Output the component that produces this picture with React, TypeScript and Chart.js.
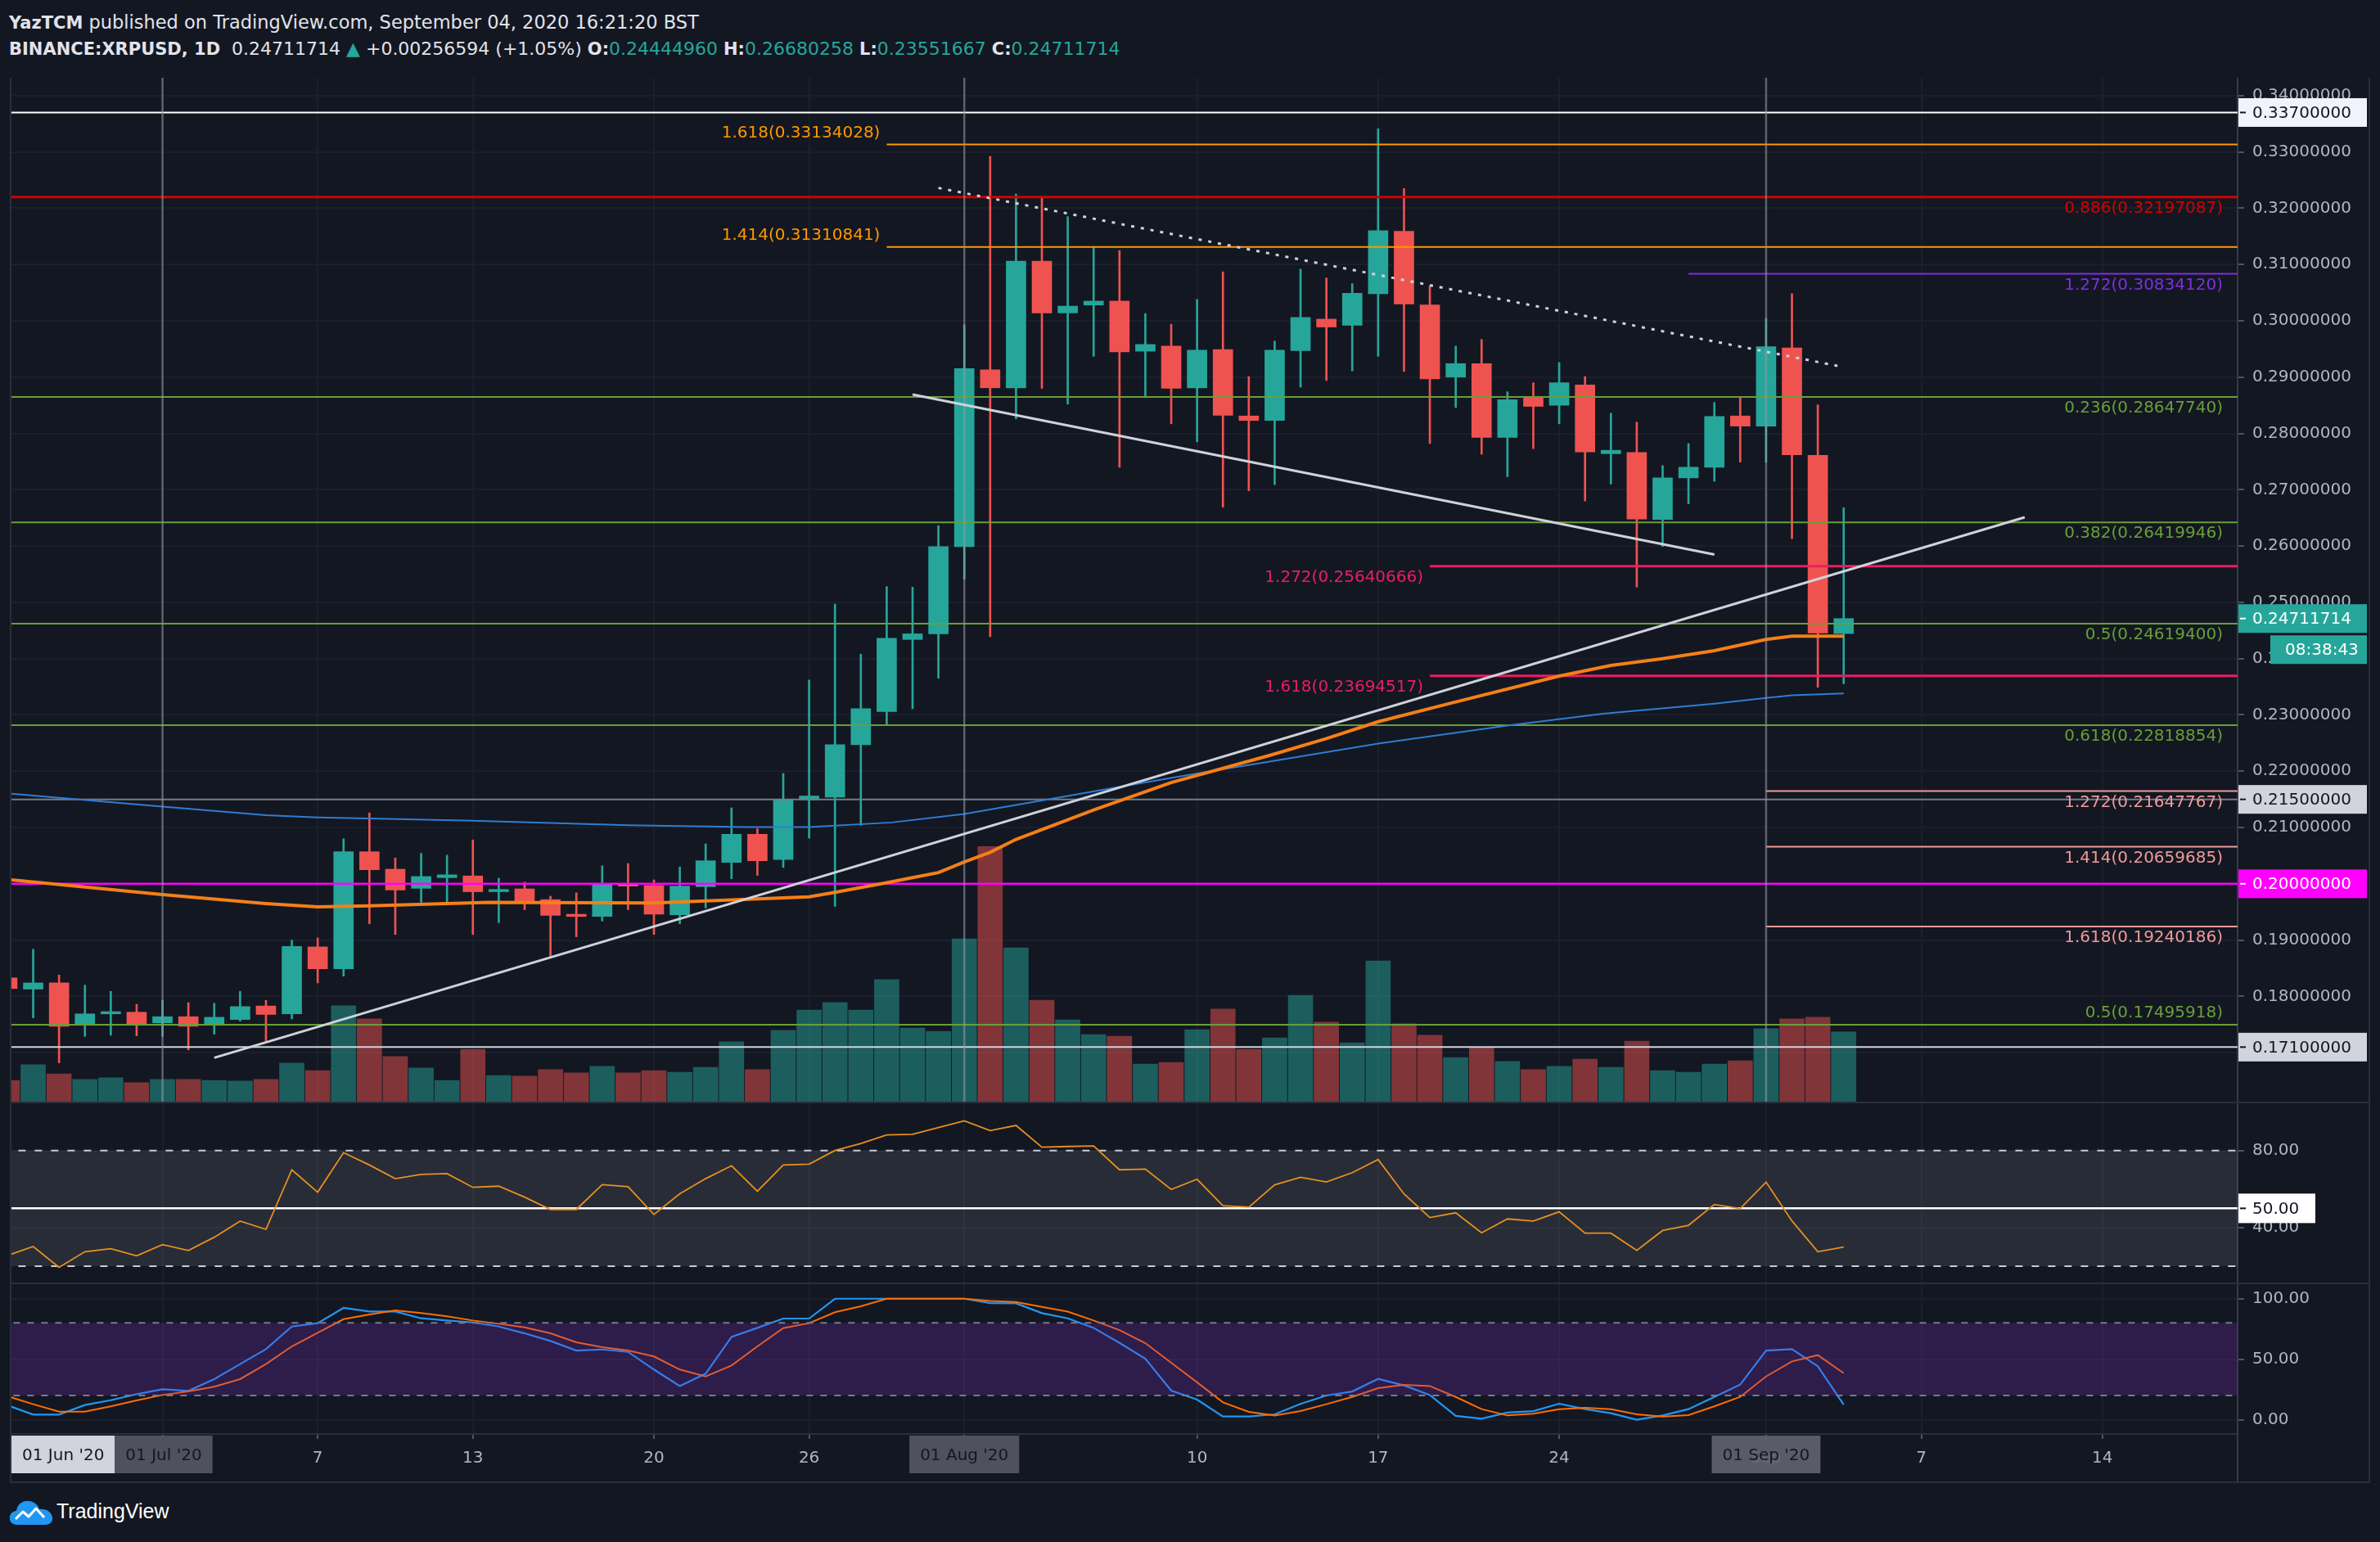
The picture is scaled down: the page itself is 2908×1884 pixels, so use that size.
import React, { useEffect, useRef } from "react";
import { Chart, registerables } from "chart.js";

Chart.register(...registerables);

/* ------------------------------------------------------------------ */
/* Market data — day index 0 = 01 Jul 2020, first candle = 25 Jun 2020 */
/* ------------------------------------------------------------------ */
const FIRST_DAY = -6;

const OPEN = [
  0.1833, 0.1813, 0.1824, 0.1751, 0.1769, 0.1772, 0.1753, 0.1764, 0.1751, 0.1759,
  0.1783, 0.1769, 0.1888, 0.1849, 0.2057, 0.2026, 0.1992, 0.2011, 0.2014, 0.1986,
  0.1991, 0.1972, 0.1946, 0.1942, 0.2, 0.1997, 0.1945, 0.1995, 0.2038, 0.2088,
  0.2043, 0.2149, 0.2154, 0.2247, 0.2306, 0.2434, 0.2444, 0.2599, 0.2913, 0.2881,
  0.3106, 0.3014, 0.3028, 0.3035, 0.2946, 0.2955, 0.2881, 0.2949, 0.2831, 0.2823,
  0.2947, 0.3003, 0.2992, 0.3048, 0.3159, 0.3028, 0.29, 0.2924, 0.2793, 0.2864,
  0.285, 0.2886, 0.2764, 0.2766, 0.2647, 0.2721, 0.274, 0.2831, 0.2813, 0.2952,
  0.2761, 0.2444496,
];
const HIGH = [
  0.184, 0.1884, 0.1838, 0.182, 0.1809, 0.1786, 0.1793, 0.1789, 0.1788, 0.1809,
  0.1793, 0.19, 0.1904, 0.208, 0.2126, 0.2046, 0.2054, 0.2051, 0.2078, 0.201,
  0.2003, 0.1978, 0.1984, 0.2032, 0.2036, 0.2007, 0.203, 0.2071, 0.2135, 0.2098,
  0.2196, 0.2362, 0.2497, 0.2408, 0.2528, 0.2527, 0.2636, 0.2993, 0.3292, 0.3225,
  0.3219, 0.3185, 0.3132, 0.3125, 0.3013, 0.2994, 0.3038, 0.3087, 0.2901, 0.2964,
  0.3092, 0.3076, 0.3066, 0.3341, 0.3235, 0.3062, 0.2955, 0.2967, 0.2874, 0.289,
  0.2926, 0.2901, 0.2836, 0.282, 0.2743, 0.2782, 0.2855, 0.2865, 0.3004, 0.3048,
  0.2851, 0.26680258,
];
const LOW = [
  0.1808, 0.1762, 0.1682, 0.1729, 0.1731, 0.173, 0.1729, 0.1705, 0.1733, 0.1756,
  0.1721, 0.176, 0.1824, 0.1836, 0.1929, 0.191, 0.1967, 0.1968, 0.191, 0.1931,
  0.1954, 0.1872, 0.1906, 0.1934, 0.1954, 0.191, 0.1929, 0.1957, 0.2009, 0.2015,
  0.2029, 0.2081, 0.196, 0.2104, 0.2282, 0.2311, 0.2365, 0.2541, 0.2439, 0.2826,
  0.288, 0.2852, 0.2937, 0.274, 0.2865, 0.2817, 0.2785, 0.2669, 0.2698, 0.2709,
  0.2882, 0.2894, 0.2911, 0.2937, 0.291, 0.2782, 0.2846, 0.2763, 0.2723, 0.2773,
  0.2817, 0.268, 0.271, 0.2527, 0.2599, 0.2675, 0.2715, 0.2749, 0.2749, 0.2613,
  0.2349, 0.23551667,
];
const CLOSE = [
  0.1814, 0.1824, 0.1747, 0.1769, 0.1773, 0.1751, 0.1764, 0.1747, 0.1763, 0.1782,
  0.1768, 0.1889, 0.1849, 0.2057, 0.2025, 0.1989, 0.2013, 0.2016, 0.1986, 0.199,
  0.1969, 0.1944, 0.1942, 0.1999, 0.1996, 0.1946, 0.1996, 0.2041, 0.2088, 0.2041,
  0.215, 0.2156, 0.2247, 0.2311, 0.2436, 0.2444, 0.2599, 0.2915, 0.2881, 0.3106,
  0.3014, 0.3026, 0.3035, 0.2945, 0.2958, 0.288, 0.2948, 0.2832, 0.2823, 0.2948,
  0.3006, 0.2989, 0.3049, 0.316, 0.303, 0.2897, 0.2924, 0.2793, 0.286, 0.2848,
  0.289, 0.2767, 0.277, 0.2648, 0.2721, 0.274, 0.283, 0.2813, 0.2954, 0.2762,
  0.2445512, 0.24711714,
];
// daily volume, millions XRP
const VOLUME = [
  6.5, 11.3, 8.5, 6.8, 7.3, 5.8, 6.8, 6.8, 6.5, 6.3,
  6.8, 11.8, 9.5, 29.3, 25.3, 13.8, 10.3, 6.5, 16.0, 8.0,
  7.8, 9.8, 8.8, 10.8, 8.8, 9.5, 9.0, 10.5, 18.3, 9.8,
  21.8, 28.0, 30.3, 28.0, 37.3, 22.5, 21.5, 49.8, 78.0, 47.0,
  31.0, 25.0, 20.5, 20.0, 11.5, 12.0, 22.0, 28.3, 16.0, 19.5,
  32.5, 24.3, 18.0, 43.0, 23.8, 20.3, 13.5, 16.5, 12.3, 9.8,
  10.8, 13.0, 10.5, 18.5, 9.5, 9.0, 11.5, 12.5, 22.3, 25.3,
  25.8, 21.3,
];
const RSI = [
  25.5, 30.2, 19.4, 27.5, 29.1, 25.4, 31.2, 28.1, 35.0, 43.4,
  39.1, 70.0, 58.4, 78.9, 72.5, 65.4, 67.6, 68.0, 60.9, 61.5,
  55.8, 49.4, 49.4, 62.3, 61.2, 46.8, 57.6, 65.4, 72.1, 58.9,
  72.5, 72.9, 80.0, 83.6, 88.1, 88.4, 91.9, 95.4, 90.3, 93.0,
  81.7, 82.1, 82.4, 70.0, 70.4, 59.8, 65.1, 51.4, 50.6, 62.2,
  66.1, 63.7, 68.5, 75.3, 57.5, 45.2, 47.7, 37.3, 44.5, 43.4,
  48.2, 37.1, 37.1, 28.2, 38.5, 41.2, 52.0, 49.9, 63.6, 43.5,
  27.5, 29.9,
];
const STOCH_K = [
  12.0, 4.3, 4.3, 12.2, 16.2, 21.2, 25.2, 23.9, 33.6, 46.0,
  58.3, 77.0, 79.8, 92.4, 89.4, 89.4, 83.8, 82.0, 80.4, 77.0,
  71.4, 65.1, 57.2, 58.1, 56.1, 41.5, 27.9, 38.1, 68.5, 75.9,
  83.6, 83.6, 100, 100, 100, 100, 100, 100, 96.4, 96.2,
  88.1, 83.8, 75.9, 63.5, 50.5, 24.1, 16.7, 2.7, 2.7, 4.5,
  13.1, 20.1, 23.4, 33.8, 28.4, 20.5, 3.2, 0.9, 5.9, 7.2,
  13.3, 8.8, 5.4, 0, 3.6, 8.8, 18.9, 29.1, 57.2, 58.3,
  44.2, 12.6,
];
const STOCH_D = [
  19.5, 12.9, 6.8, 6.8, 11.1, 16.0, 20.5, 23.4, 27.3, 33.6,
  46.0, 60.6, 71.9, 83.1, 87.0, 90.3, 88.1, 85.4, 82.0, 79.3,
  76.4, 71.4, 64.0, 59.9, 57.2, 52.3, 41.5, 35.8, 44.8, 60.6,
  75.7, 79.8, 88.8, 93.7, 100, 100, 100, 100, 98.2, 97.3,
  93.3, 89.4, 82.0, 74.1, 63.3, 47.1, 31.0, 14.4, 6.6, 3.6,
  7.2, 12.9, 18.9, 26.1, 28.8, 27.9, 18.9, 8.8, 3.6, 5.0,
  8.8, 9.9, 8.8, 4.5, 2.7, 3.8, 11.1, 18.9, 35.8, 48.2,
  53.4, 38.5,
];

// moving averages, sampled as [day, price]
const MA_FAST: [number, number][] = [
  [-5.84, 0.2007], [0, 0.1981], [4, 0.1965], [6, 0.1959], [8, 0.1961], [12.6, 0.1967],
  [19, 0.1966], [25, 0.1977], [26, 0.1985], [28, 0.2002], [29, 0.2011], [30, 0.202],
  [31, 0.2039], [32, 0.2056], [33, 0.2079], [36, 0.2131], [39, 0.218], [42.8, 0.2228],
  [45, 0.2258], [47, 0.2288], [50, 0.2323], [54, 0.2369], [56, 0.2388], [58, 0.24],
  [60, 0.2414], [62, 0.2434], [63, 0.244], [65, 0.244],
];
const MA_SLOW: [number, number][] = [
  [-5.84, 0.216], [0, 0.2137], [4, 0.2122], [6, 0.2118], [8, 0.2116], [12, 0.2112],
  [18, 0.2104], [22.6, 0.2101], [25, 0.2101], [28.2, 0.2109], [31, 0.2124], [34.5, 0.2152],
  [37.2, 0.2174], [40, 0.2196], [42.8, 0.2217], [47, 0.2249], [52, 0.2281], [55.7, 0.2302],
  [60, 0.232], [62, 0.233], [63, 0.2335], [65, 0.2338],
];

// Fibonacci levels drawn on the chart (start day null = from the left edge)
const LEVEL_RATIOS = ["1.618", "0.886", "1.414", "1.272", "0.236", "0.382", "1.272", "0.5", "1.618", "0.618", "1.272", "1.414", "1.618", "0.5"];
const LEVEL_VALUES = [0.33134028, 0.32197087, 0.31310841, 0.3083412, 0.2864774, 0.26419946, 0.25640666, 0.246194, 0.23694517, 0.22818854, 0.21647767, 0.20659685, 0.19240186, 0.17495918];
const LEVEL_START_DAYS: (number | null)[] = [28, null, 28, 59, null, null, 49, null, 49, null, 62, 62, 62, null];

// horizontal price marks with a label on the price scale
const MARKED_PRICES = [0.337, 0.215, 0.2, 0.171];

// trend lines, [day, price]
const RISING_TREND: [number, number][] = [[2, 0.1691], [72, 0.2651]];
const FALLING_TREND: [number, number][] = [[29, 0.2869], [60, 0.2585]];
const RESISTANCE_TREND: [number, number][] = [[30, 0.3236], [64.76, 0.292]];

const MONTH_START_DAYS = [0, 31, 62];
const TICK_DAYS = [0, 6, 12, 19, 25, 31, 40, 47, 54, 62, 68, 75];
const TICK_LABELS = ["Jul", "7", "13", "20", "26", "Aug", "10", "17", "24", "Sep", "7", "14"];
const DATE_FLAG_DAYS = [-30, 0, 31, 62];
const DATE_FLAG_LABELS = ["01 Jun '20", "01 Jul '20", "01 Aug '20", "01 Sep '20"];
const PRICE_TICKS = [0.17, 0.18, 0.19, 0.2, 0.21, 0.22, 0.23, 0.24, 0.25, 0.26, 0.27, 0.28, 0.29, 0.3, 0.31, 0.32, 0.33, 0.34];
const RSI_TICKS = [40, 80];
const RSI_BAND = [20, 80];
const RSI_MID = 50;
const STOCH_TICKS = [0, 50, 100];
const STOCH_BAND = [20, 80];
const COUNTDOWN = "08:38:43";

/* ------------------------------ styles ------------------------------ */
const BG = "#131722";
const GRID = "#1b1f2b";
const FRAME = "#2a2e39";
const AXIS_LINE = "#363a45";
const AXIS_TEXT = "#b2b5be";
const UP = "#26a69a";
const DOWN = "#ef5350";
const UP_VOL = "rgba(38,166,154,0.5)";
const DOWN_VOL = "rgba(239,83,80,0.5)";
const FONT = "'DejaVu Sans', sans-serif";
const HEADER_TEXT = "#e1e3ea";

const LEVEL_STYLES = [
  { color: "#ff9800", width: 2, anchor: "start", side: "above" },
  { color: "#d50000", width: 3, anchor: "end", side: "below" },
  { color: "#ff9800", width: 2, anchor: "start", side: "above" },
  { color: "#7e2fe0", width: 2, anchor: "end", side: "below" },
  { color: "#689f38", width: 2, anchor: "end", side: "below" },
  { color: "#689f38", width: 2, anchor: "end", side: "below" },
  { color: "#e91e63", width: 3, anchor: "start", side: "below" },
  { color: "#689f38", width: 2, anchor: "end", side: "below" },
  { color: "#e91e63", width: 3, anchor: "start", side: "below" },
  { color: "#689f38", width: 2, anchor: "end", side: "below" },
  { color: "#ef9a9a", width: 2, anchor: "end", side: "below" },
  { color: "#ef9a9a", width: 2, anchor: "end", side: "below" },
  { color: "#ef9a9a", width: 2, anchor: "end", side: "below" },
  { color: "#689f38", width: 2, anchor: "end", side: "above" },
];
const MARK_STYLES = [
  { line: "#ffffff", width: 2, bg: "#f0f3fa", fg: "#131722" },
  { line: "#787b86", width: 2, bg: "#d1d4dc", fg: "#131722" },
  { line: "#ff00ff", width: 2.5, bg: "#ff00ff", fg: "#ffffff" },
  { line: "#d1d4dc", width: 2, bg: "#d1d4dc", fg: "#131722" },
];
const DATE_FLAG_BG = ["#d1d4dc", "#4f525d", "#4f525d", "rgba(95,98,109,0.92)"];

/* ------------------------------ layout ------------------------------ */
const PLOT_LEFT = 14;
const PLOT_W = 2720;
const AXIS_W = 161;
const CANVAS_W = PLOT_W + AXIS_W;
const MAIN_TOP = 95;
const MAIN_H = 1251;
const RSI_TOP = 1348;
const RSI_H = 219;
const STOCH_TOP = 1569;
const STOCH_H = 183;
const DATE_AXIS_H = 59;

const X_MIN = -5.84;
const X_MAX = 80.23;
const PRICE_MIN = 0.16131;
const PRICE_MAX = 0.34317;
const VOL_MAX = 313;
const RSI_MIN = 11.5;
const RSI_MAX = 104.5;
const STOCH_MIN = -11.7;
const STOCH_MAX = 112.0;

const DAYS = OPEN.map((_, i) => FIRST_DAY + i);
const RISING = OPEN.map((o, i) => CLOSE[i] >= o);

const font = (size: number, weight = "normal") => ({ family: FONT, size, weight });

function xAxis(withLabels: boolean) {
  return {
    type: "linear",
    min: X_MIN,
    max: X_MAX,
    offset: false,
    bounds: "data",
    afterBuildTicks: (s: any) => {
      s.ticks = TICK_DAYS.map((v) => ({ value: v }));
    },
    afterFit: (s: any) => {
      s.height = withLabels ? DATE_AXIS_H : 0;
      s.paddingLeft = 0;
      s.paddingRight = 0;
    },
    grid: { color: GRID, lineWidth: 2, offset: false, drawTicks: withLabels, tickLength: 6, tickColor: "#50535e", tickWidth: 2 },
    border: { display: withLabels, color: FRAME, width: 2 },
    ticks: {
      display: withLabels,
      autoSkip: false,
      maxRotation: 0,
      padding: 12,
      color: AXIS_TEXT,
      font: font(20),
      callback: (_v: any, i: number) => TICK_LABELS[i] ?? "",
    },
  };
}

function yAxis(min: number, max: number, ticks: number[], digits: number) {
  return {
    type: "linear",
    position: "right",
    min,
    max,
    bounds: "data",
    afterBuildTicks: (s: any) => {
      s.ticks = ticks.map((v) => ({ value: v }));
    },
    afterFit: (s: any) => {
      s.width = AXIS_W;
      s.paddingTop = 0;
      s.paddingBottom = 0;
    },
    grid: { color: GRID, lineWidth: 2, drawTicks: true, tickLength: 8, tickColor: "#50535e", tickWidth: 2 },
    border: { display: true, color: AXIS_LINE, width: 2 },
    ticks: { padding: 10, color: AXIS_TEXT, font: font(20), autoSkip: false, callback: (v: any) => Number(v).toFixed(digits) },
  };
}

const baseOptions = {
  responsive: false,
  animation: false,
  devicePixelRatio: 1,
  events: [],
  layout: { padding: 0, autoPadding: false },
  plugins: { legend: { display: false }, tooltip: { enabled: false } },
};

function lineSet(points: [number, number][], color: string, width: number, order: number, extra: any = {}) {
  return {
    type: "line",
    data: points.map(([x, y]) => ({ x, y })),
    borderColor: color,
    borderWidth: width,
    pointRadius: 0,
    fill: false,
    tension: 0,
    order,
    ...extra,
  };
}

function axisBox(ctx: CanvasRenderingContext2D, x0: number, x1: number, yc: number, h: number, text: string, bg: string, fg: string, textX: number) {
  ctx.fillStyle = bg;
  ctx.fillRect(x0, yc - h / 2, x1 - x0, h);
  ctx.fillStyle = fg;
  ctx.fillRect(x0 + 2, yc - 1, 7, 2);
  ctx.font = `20px ${FONT}`;
  ctx.textAlign = "left";
  ctx.textBaseline = "middle";
  ctx.fillText(text, textX, yc + 1);
}

/* ------------------------------ main pane ------------------------------ */
const mainOverlay = {
  id: "mainOverlay",
  afterDatasetsDraw(chart: any) {
    const { ctx, chartArea, scales } = chart;
    const x = scales.x;
    const y = scales.y;
    ctx.save();
    ctx.font = `20px ${FONT}`;
    ctx.textBaseline = "middle";
    ctx.textAlign = "right";
    LEVEL_VALUES.forEach((v, i) => {
      const st = LEVEL_STYLES[i];
      const py = y.getPixelForValue(v) + (st.side === "above" ? -14 : 14);
      const text = `${LEVEL_RATIOS[i]}(${v.toFixed(8)})`;
      const start = LEVEL_START_DAYS[i];
      const px = st.anchor === "end" || start === null ? chartArea.right - 18 : x.getPixelForValue(start) - 8;
      ctx.fillStyle = st.color;
      ctx.fillText(text, px, py);
    });
    ctx.restore();
  },
  afterDraw(chart: any) {
    const { ctx, chartArea, scales } = chart;
    const y = scales.y;
    const r = chartArea.right;
    ctx.save();
    MARKED_PRICES.forEach((v, i) => {
      const st = MARK_STYLES[i];
      axisBox(ctx, r + 1, r + 158, y.getPixelForValue(v), 35, v.toFixed(8), st.bg, st.fg, r + 18);
    });
    const last = CLOSE[CLOSE.length - 1];
    const ly = y.getPixelForValue(last);
    axisBox(ctx, r + 1, r + 158, ly, 35, last.toFixed(8), UP, "#ffffff", r + 18);
    ctx.fillStyle = UP;
    ctx.fillRect(r + 40, ly + 20.5, 118, 35);
    ctx.fillStyle = "#ffffff";
    ctx.font = `20px ${FONT}`;
    ctx.textAlign = "left";
    ctx.textBaseline = "middle";
    ctx.fillText(COUNTDOWN, r + 58, ly + 39);
    ctx.restore();
  },
};

function mainConfig(): any {
  const datasets: any[] = [];
  datasets.push({
    type: "bar",
    data: DAYS.map((d, i) => ({ x: d, y: VOLUME[i] })),
    backgroundColor: RISING.map((u) => (u ? UP_VOL : DOWN_VOL)),
    barThickness: 30,
    grouped: false,
    order: 20,
    yAxisID: "vol",
  });
  datasets.push({
    type: "bar",
    data: DAYS.map((d, i) => ({ x: d, y: [LOW[i], HIGH[i]] })),
    backgroundColor: RISING.map((u) => (u ? UP : DOWN)),
    barThickness: 2,
    grouped: false,
    order: 19,
    yAxisID: "y",
  });
  datasets.push({
    type: "bar",
    data: DAYS.map((d, i) => ({ x: d, y: [OPEN[i], CLOSE[i]] })),
    backgroundColor: RISING.map((u) => (u ? UP : DOWN)),
    barThickness: 24,
    minBarLength: 2,
    grouped: false,
    order: 18,
    yAxisID: "y",
  });
  LEVEL_VALUES.forEach((v, i) => {
    const start = LEVEL_START_DAYS[i];
    datasets.push(lineSet([[start === null ? X_MIN - 1 : start, v], [X_MAX + 1, v]], LEVEL_STYLES[i].color, LEVEL_STYLES[i].width, 10, { yAxisID: "y" }));
  });
  MARKED_PRICES.forEach((v, i) => {
    datasets.push(lineSet([[X_MIN - 1, v], [X_MAX + 1, v]], MARK_STYLES[i].line, MARK_STYLES[i].width, 10, { yAxisID: "y" }));
  });
  datasets.push(lineSet(MA_SLOW, "#2e7dd1", 2, 6, { yAxisID: "y" }));
  datasets.push(lineSet(MA_FAST, "#f57f17", 4, 5, { yAxisID: "y" }));
  MONTH_START_DAYS.forEach((d) => {
    datasets.push(lineSet([[d, PRICE_MIN], [d, PRICE_MAX]], "rgba(150,153,163,0.55)", 2.5, 4, { yAxisID: "y" }));
  });
  datasets.push(lineSet(RISING_TREND, "#cfd2da", 3, 2, { yAxisID: "y" }));
  datasets.push(lineSet(FALLING_TREND, "#cfd2da", 3, 2, { yAxisID: "y" }));
  datasets.push(lineSet(RESISTANCE_TREND, "#cfd2da", 3, 2, { yAxisID: "y", borderDash: [4, 8] }));

  return {
    type: "bar",
    data: { datasets },
    options: {
      ...baseOptions,
      scales: {
        x: xAxis(false),
        y: yAxis(PRICE_MIN, PRICE_MAX, PRICE_TICKS, 8),
        vol: { type: "linear", display: false, min: 0, max: VOL_MAX },
      },
    },
    plugins: [mainOverlay],
  };
}

/* ------------------------------ RSI pane ------------------------------ */
const rsiOverlay = {
  id: "rsiOverlay",
  afterDraw(chart: any) {
    const { ctx, chartArea, scales } = chart;
    const r = chartArea.right;
    ctx.save();
    axisBox(ctx, r + 1, r + 95, scales.y.getPixelForValue(RSI_MID), 36, RSI_MID.toFixed(2), "#ffffff", "#131722", r + 18);
    ctx.restore();
  },
};

function rsiConfig(): any {
  return {
    type: "line",
    data: {
      datasets: [
        lineSet(DAYS.map((d, i) => [d, RSI[i]] as [number, number]), "#e8901e", 1.8, 0),
        lineSet([[X_MIN - 1, RSI_MID], [X_MAX + 1, RSI_MID]], "#ffffff", 2.5, 1),
        lineSet([[X_MIN - 1, RSI_BAND[1]], [X_MAX + 1, RSI_BAND[1]]], "#c9cbd2", 2, 2, {
          borderDash: [9, 11],
          fill: "+1",
          backgroundColor: "rgba(210,215,230,0.11)",
        }),
        lineSet([[X_MIN - 1, RSI_BAND[0]], [X_MAX + 1, RSI_BAND[0]]], "#c9cbd2", 2, 2, { borderDash: [9, 11] }),
      ],
    },
    options: {
      ...baseOptions,
      scales: { x: xAxis(false), y: yAxis(RSI_MIN, RSI_MAX, RSI_TICKS, 2) },
    },
    plugins: [rsiOverlay],
  };
}

/* --------------------------- Stoch RSI pane --------------------------- */
const dateFlags = {
  id: "dateFlags",
  afterDraw(chart: any) {
    const { ctx, chartArea, scales } = chart;
    const x = scales.x;
    ctx.save();
    ctx.font = `20px ${FONT}`;
    ctx.textAlign = "center";
    ctx.textBaseline = "middle";
    let prevRight = chartArea.left;
    DATE_FLAG_DAYS.forEach((d, i) => {
      const text = DATE_FLAG_LABELS[i];
      const w = ctx.measureText(text).width + 26;
      let left = x.getPixelForValue(d) - w / 2;
      if (left < prevRight) left = prevRight;
      const top = chartArea.bottom + 2;
      ctx.fillStyle = DATE_FLAG_BG[i];
      ctx.fillRect(left, top, w, 46);
      ctx.fillStyle = "#131722";
      ctx.fillText(text, left + w / 2, top + 25);
      prevRight = left + w;
    });
    ctx.restore();
  },
};

function stochConfig(): any {
  return {
    type: "line",
    data: {
      datasets: [
        lineSet([[X_MIN - 1, STOCH_BAND[1]], [X_MAX + 1, STOCH_BAND[1]]], "#787b86", 2, 0.5, {
          borderDash: [8, 9],
          fill: "+1",
          backgroundColor: "rgba(128,42,196,0.25)",
        }),
        lineSet([[X_MIN - 1, STOCH_BAND[0]], [X_MAX + 1, STOCH_BAND[0]]], "#787b86", 2, 0, { borderDash: [8, 9] }),
        lineSet(DAYS.map((d, i) => [d, STOCH_K[i]] as [number, number]), "#2196f3", 2.2, 2),
        lineSet(DAYS.map((d, i) => [d, STOCH_D[i]] as [number, number]), "#ff6d00", 2, 1),
      ],
    },
    options: {
      ...baseOptions,
      scales: { x: xAxis(true), y: yAxis(STOCH_MIN, STOCH_MAX, STOCH_TICKS, 2) },
    },
    plugins: [dateFlags],
  };
}

/* ------------------------------ page ------------------------------ */
const abs = (left: number, top: number, width: number, height: number, background: string): React.CSSProperties => ({
  position: "absolute",
  left,
  top,
  width,
  height,
  background,
});

export default function App() {
  const mainRef = useRef<HTMLCanvasElement>(null);
  const rsiRef = useRef<HTMLCanvasElement>(null);
  const stochRef = useRef<HTMLCanvasElement>(null);

  useEffect(() => {
    document.body.style.margin = "0";
    document.body.style.background = BG;
    const charts = [
      new Chart(mainRef.current as HTMLCanvasElement, mainConfig()),
      new Chart(rsiRef.current as HTMLCanvasElement, rsiConfig()),
      new Chart(stochRef.current as HTMLCanvasElement, stochConfig()),
    ];
    return () => charts.forEach((c) => c.destroy());
  }, []);

  const last = CLOSE.length - 1;
  const change = CLOSE[last] - CLOSE[last - 1];
  const pct = (change / CLOSE[last - 1]) * 100;
  const teal = { color: UP };
  const bold = { fontWeight: "bold" as const, fontSize: 21 };

  return (
    <div style={{ position: "fixed", left: 0, top: 0, width: 2908, height: 1884, background: BG, overflow: "hidden", fontFamily: FONT }}>
      <div style={{ position: "absolute", left: 11, top: 16, fontSize: 22.5, lineHeight: "22px", color: HEADER_TEXT, whiteSpace: "pre" }}>
        <span style={bold}>YazTCM</span> published on TradingView.com, September 04, 2020 16:21:20 BST
      </div>
      <div style={{ position: "absolute", left: 11, top: 49, fontSize: 22, lineHeight: "22px", color: HEADER_TEXT, whiteSpace: "pre" }}>
        <span style={bold}>BINANCE:XRPUSD, 1D</span>
        {"  " + CLOSE[last].toFixed(8)}
        <span style={teal}>{" ▲"}</span>
        {` +${change.toFixed(8)} (+${pct.toFixed(2)}%) `}
        <span style={bold}>O:</span>
        <span style={teal}>{OPEN[last].toFixed(8)}</span> <span style={bold}>H:</span>
        <span style={teal}>{HIGH[last].toFixed(8)}</span> <span style={bold}>L:</span>
        <span style={teal}>{LOW[last].toFixed(8)}</span> <span style={bold}>C:</span>
        <span style={teal}>{CLOSE[last].toFixed(8)}</span>
      </div>

      <canvas ref={mainRef} width={CANVAS_W} height={MAIN_H} style={{ position: "absolute", left: PLOT_LEFT, top: MAIN_TOP, width: CANVAS_W, height: MAIN_H }} />
      <canvas ref={rsiRef} width={CANVAS_W} height={RSI_H} style={{ position: "absolute", left: PLOT_LEFT, top: RSI_TOP, width: CANVAS_W, height: RSI_H }} />
      <canvas
        ref={stochRef}
        width={CANVAS_W}
        height={STOCH_H + DATE_AXIS_H}
        style={{ position: "absolute", left: PLOT_LEFT, top: STOCH_TOP, width: CANVAS_W, height: STOCH_H + DATE_AXIS_H }}
      />

      {/* pane frame */}
      <div style={abs(PLOT_LEFT - 2, MAIN_TOP, 2, STOCH_TOP + STOCH_H + DATE_AXIS_H - MAIN_TOP, FRAME)} />
      <div style={abs(PLOT_LEFT + CANVAS_W - 1, MAIN_TOP, 2, STOCH_TOP + STOCH_H + DATE_AXIS_H - MAIN_TOP, FRAME)} />
      <div style={abs(PLOT_LEFT - 2, MAIN_TOP + MAIN_H, CANVAS_W + 3, 2, FRAME)} />
      <div style={abs(PLOT_LEFT - 2, RSI_TOP + RSI_H, CANVAS_W + 3, 2, FRAME)} />
      <div style={abs(PLOT_LEFT - 2, STOCH_TOP + STOCH_H + DATE_AXIS_H - 1, CANVAS_W + 3, 2, FRAME)} />
      <div style={abs(PLOT_LEFT + PLOT_W - 1, STOCH_TOP + STOCH_H, 2, DATE_AXIS_H, AXIS_LINE)} />

      {/* TradingView logo */}
      <svg width={56} height={32} viewBox="0 0 56 32" style={{ position: "absolute", left: 10, top: 1832 }}>
        <path d="M12 31 C4 31 1 26 2 21 C3 16 7 14 10 14 C11 6 18 1 26 2 C33 3 37 8 38 12 C46 11 53 15 54 22 C55 28 50 31 45 31 Z" fill="#2196f3" />
        <path d="M9 24 L18 15 L25 21 L34 11 L44 22" stroke="#ffffff" strokeWidth={3} fill="none" strokeLinejoin="round" />
      </svg>
      <div style={{ position: "absolute", left: 69, top: 1834, fontSize: 25, lineHeight: "25px", color: "#ffffff", fontFamily: "'Liberation Sans', sans-serif" }}>
        TradingView
      </div>
    </div>
  );
}
